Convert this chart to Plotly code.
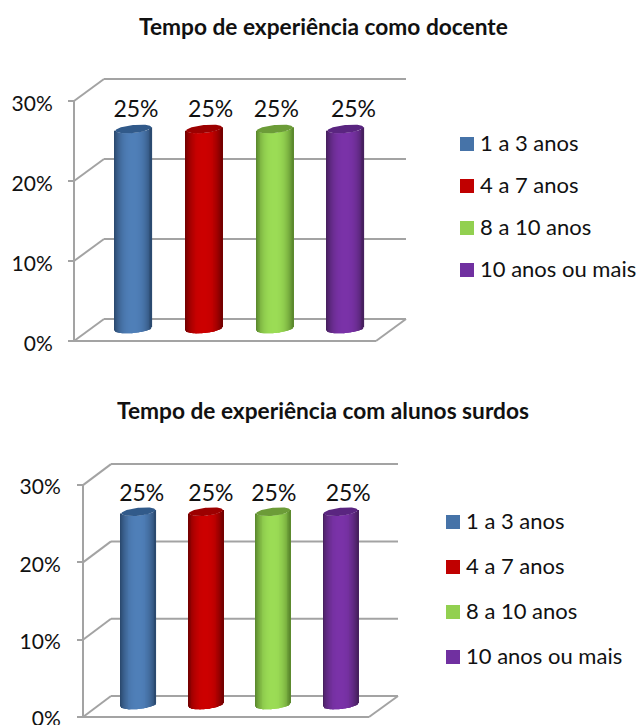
import numpy as np
import plotly.graph_objects as go

# Chart data
categorias = ["1 a 3 anos", "4 a 7 anos", "8 a 10 anos", "10 anos ou mais"]
valores_docente = [25, 25, 25, 25]
valores_surdos = [25, 25, 25, 25]
marcas_y = [0, 10, 20, 30]
titulo_docente = "Tempo de experiência como docente"
titulo_surdos = "Tempo de experiência com alunos surdos"

# Cylinder colours per category: edge, body, top cap
cor_borda = ["#2b4a70", "#750000", "#5c8a2e", "#47205f"]
cor_corpo = ["#4f7fb8", "#cc0000", "#9bdc55", "#7a32a8"]
cor_tampa = ["#315a8a", "#9c0000", "#6c9c38", "#5a2580"]
cor_legenda = ["#4673a8", "#c00000", "#92d050", "#7030a0"]
CINZA = "#a3a3a3"
FONTE = "Lato"
W, H = 639, 725
FOLGA = 3  # spare pixels around each plot box so border lines are not clipped

# Pixel layout of each panel, front plane and oblique depth
paineis = [
    dict(valores=valores_docente, titulo=titulo_docente, titulo_y=27, xax="x", yax="y",
         esq=74, dir_frente=376, dir_fundo=406, base=341, topo=79, px_por_pct=8.0,
         prof_x=30, prof_y=22, centro0=133.5, passo=70.67, meia=18,
         rotulo_dx=[2.5, 6.5, 1.5, 8.0], rotulo_dy=3.75, leg_x=460, leg_y=[144, 186, 228, 270],
         tick=6, pad=11, desvio=3),
    dict(valores=valores_surdos, titulo=titulo_surdos, titulo_y=411, xax="x2", yax="y2",
         esq=83, dir_frente=369, dir_fundo=398, base=717, topo=465, px_por_pct=7.73,
         prof_x=28, prof_y=21, centro0=138.5, passo=67.4, meia=17,
         rotulo_dx=[3.2, 5.0, 0.5, 7.5], rotulo_dy=3.7, leg_x=446, leg_y=[522, 567, 612, 657],
         tick=6, pad=12, desvio=2),
]


def mistura(a, b, f):
    ca = [int(a[i:i + 2], 16) for i in (1, 3, 5)]
    cb = [int(b[i:i + 2], 16) for i in (1, 3, 5)]
    return "rgb(%d,%d,%d)" % tuple(round(x + (y - x) * f) for x, y in zip(ca, cb))


fig = go.Figure()
shapes, anotacoes = [], []
layout_eixos = {}

for p in paineis:
    ux = lambda px: (px - p["centro0"]) / p["passo"]
    pct = p["px_por_pct"]
    dx = p["prof_x"] / p["passo"]
    dy = p["prof_y"] / pct
    esq, dir_f, dir_b = ux(p["esq"]), ux(p["dir_frente"]), ux(p["dir_fundo"])
    linha = dict(color=CINZA, width=2)
    base_shape = dict(type="line", xref=p["xax"], yref=p["yax"], line=linha, layer="below")

    # Side wall and back wall gridlines
    for m in marcas_y:
        shapes.append({**base_shape, "x0": esq, "y0": m, "x1": esq + dx, "y1": m + dy})
        shapes.append({**base_shape, "x0": esq + dx, "y0": m + dy, "x1": dir_b, "y1": m + dy})
    # Vertical axis edge and floor outline
    shapes.append({**base_shape, "x0": esq, "y0": 0, "x1": esq, "y1": marcas_y[-1]})
    shapes.append({**base_shape, "x0": esq, "y0": 0, "x1": dir_f, "y1": 0})
    shapes.append({**base_shape, "x0": dir_f, "y0": 0, "x1": dir_b, "y1": dy})

    meia = p["meia"] / p["passo"]
    piso = 12 / pct         # cylinders stand halfway into the floor depth
    elipse = 4.0 / pct
    incl = 1.7 / pct

    # Shaded cylinders, built from thin vertical slices of each bar
    for i, v in enumerate(p["valores"]):
        t = np.linspace(-1, 1, 39)
        curva = np.sqrt(1 - t ** 2)
        bases = piso + incl * t - elipse * curva
        fig.add_trace(go.Bar(
            x=i + t * meia, y=[v] * len(t), base=bases,
            width=meia * 2 / 30,
            marker=dict(color=[mistura(cor_borda[i], cor_corpo[i], 1 - abs(a) ** 2.6) for a in t],
                        line=dict(width=0)),
            xaxis=p["xax"], yaxis=p["yax"], showlegend=False, hoverinfo="skip",
        ))
        ang = np.linspace(0, 2 * np.pi, 60)
        fig.add_trace(go.Scatter(
            x=i + np.cos(ang) * meia,
            y=piso + v + incl * np.cos(ang) + elipse * np.sin(ang),
            mode="lines", fill="toself", fillcolor=cor_tampa[i], line=dict(width=0),
            xaxis=p["xax"], yaxis=p["yax"], showlegend=False, hoverinfo="skip",
        ))

    # Value labels above the cylinders
    fig.add_trace(go.Scatter(
        x=[i + d / p["passo"] for i, d in enumerate(p["rotulo_dx"])],
        y=[v + p["rotulo_dy"] for v in p["valores"]],
        text=[f"{v}%" for v in p["valores"]],
        mode="text", textposition="middle center",
        textfont=dict(family=FONTE, size=23, color="#111111"),
        xaxis=p["xax"], yaxis=p["yax"], showlegend=False, hoverinfo="skip",
    ))

    # Axes mapped onto the panel's pixel box, with the y axis held at the front edge
    sx = p["xax"].replace("x", "xaxis")
    sy = p["yax"].replace("y", "yaxis")
    layout_eixos[sx] = dict(domain=[(p["esq"] - FOLGA) / W, (p["dir_fundo"] + FOLGA) / W],
                            range=[ux(p["esq"] - FOLGA), ux(p["dir_fundo"] + FOLGA)],
                            visible=False, anchor=p["yax"], fixedrange=True)
    layout_eixos[sy] = dict(domain=[(H - p["base"] - FOLGA) / H, (H - p["topo"] + FOLGA) / H],
                            range=[-FOLGA / pct, (p["base"] - p["topo"] + FOLGA) / pct],
                            anchor="free", position=p["esq"] / W,
                            tickvals=marcas_y, ticktext=[f"{m}%" for m in marcas_y],
                            ticks="outside", ticklen=p["tick"], tickcolor=CINZA, tickwidth=2,
                            showgrid=False, zeroline=False, showline=False,
                            ticklabelstandoff=p["pad"], ticklabelshift=p["desvio"],
                            ticklabeloverflow="allow",
                            tickfont=dict(family=FONTE, size=21, color="#111111"))

    anotacoes.append(dict(text=f"<b>{p['titulo']}</b>", xref="paper", yref="paper",
                          x=323 / W, y=1 - p["titulo_y"] / H, yanchor="middle", showarrow=False,
                          font=dict(family=FONTE, size=22.7, color="#111111")))

    # Legend swatches and entries
    for nome, cor, ly in zip(categorias, cor_legenda, p["leg_y"]):
        shapes.append(dict(type="rect", xref="paper", yref="paper", line=dict(width=0), fillcolor=cor,
                           x0=p["leg_x"] / W, x1=(p["leg_x"] + 14) / W,
                           y0=1 - (ly + 7) / H, y1=1 - (ly - 7) / H))
        anotacoes.append(dict(text=nome, xref="paper", yref="paper", showarrow=False,
                              x=(p["leg_x"] + 18) / W, y=1 - (ly - 2) / H, xanchor="left", yanchor="middle",
                              font=dict(family=FONTE, size=22, color="#111111")))

fig.update_layout(width=W, height=H, margin=dict(l=0, r=0, t=0, b=0, autoexpand=False),
                  paper_bgcolor="white", plot_bgcolor="white", barmode="overlay",
                  showlegend=False, shapes=shapes, annotations=anotacoes, **layout_eixos)
fig.write_html("out.html", config={"displayModeBar": False})
